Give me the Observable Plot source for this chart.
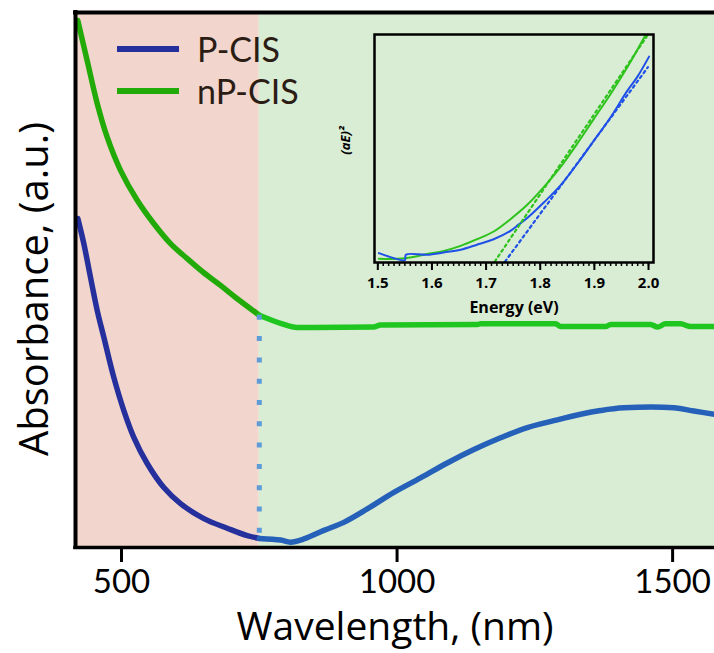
<!DOCTYPE html>
<html>
<head>
<meta charset="utf-8">
<script src="https://cdn.jsdelivr.net/npm/d3@7"></script>
<script src="https://cdn.jsdelivr.net/npm/@observablehq/plot@0.6"></script>
<style>
  body { margin: 0; background: white; }
  #wrap { position: relative; width: 714px; height: 653px; overflow: hidden; font-family: Lato, "Open Sans", sans-serif; }
  #inset { position: absolute; left: 320px; top: 20px; }
  .leg { position: absolute; display: flex; align-items: center; color: #2b1d14; font-size: 34px; line-height: 1; }
  .leg span.sw { display: inline-block; width: 62px; height: 6px; margin-right: 18px; }
</style>
</head>
<body>
<div id="wrap"></div>
<script>
// ---------- main chart data ----------
const xDomain = [416.5, 1576];
const xTicks = [500, 1000, 1500];
const bandEdges = [416.5, 750, 1576];
const bandColors = ["#f2d6cd", "#d9ecd4"];

const pcisWavelength = [420.7, 431.6, 443.7, 455.9, 467.9, 486.0, 504.2, 522.3, 546.6, 576.8, 607.1, 649.4, 691.8, 728.1, 750,
  788.6, 806.7, 830.9, 867.2, 903.4, 945.9, 994.2, 1042.6, 1091.1, 1139.4, 1187.8, 1236.3, 1284.6, 1333.0, 1369.3, 1411.6, 1502.4, 1538.7, 1576.0];
const pcisAbs = [0.615, 0.568, 0.505, 0.443, 0.393, 0.318, 0.256, 0.206, 0.157, 0.112, 0.082, 0.054, 0.036, 0.022, 0.017,
  0.014, 0.010, 0.016, 0.032, 0.047, 0.072, 0.103, 0.130, 0.158, 0.183, 0.205, 0.224, 0.237, 0.249, 0.256, 0.261, 0.261, 0.255, 0.249];

const npcisWavelength = [420.7, 437.7, 455.9, 474.0, 498.2, 528.5, 558.1, 588.9, 619.2, 648.8, 679.7, 710.0, 746.3, 750,
  788.6, 818.9, 957.4, 970.0, 1146.0, 1151.5, 1287.7, 1296.7, 1378.4, 1387.5, 1460.0, 1472.8, 1487.0, 1514.5, 1532.7, 1576.0];
const npcisAbs = [0.985, 0.910, 0.830, 0.767, 0.705, 0.649, 0.606, 0.568, 0.540, 0.514, 0.490, 0.465, 0.437, 0.434,
  0.419, 0.411, 0.412, 0.416, 0.417, 0.418, 0.418, 0.413, 0.413, 0.417, 0.417, 0.412, 0.418, 0.418, 0.413, 0.413];

const seriesNames = ["P-CIS", "nP-CIS"];
const blueLeft = "#25309d", blueRight = "#2560b9";
const greenLeft = "#22aa08", greenRight = "#20c620";

// ---------- inset data ----------
const insetXDomain = [1.4939, 2.0092];
const insetMajorTicks = [1.5, 1.6, 1.7, 1.8, 1.9, 2.0];
const insetEnergyP = [1.502, 1.530, 1.550, 1.552, 1.591, 1.622, 1.653, 1.683, 1.714, 1.745, 1.760, 1.776, 1.807, 1.837, 1.868, 1.899, 1.930, 1.961, 1.979, 2.001];
const insetValueP = [4.1, 1.9, 1.0, 3.4, 3.4, 4.4, 5.6, 7.8, 10.2, 13.9, 16.6, 19.5, 26.4, 33.7, 43.2, 53.4, 63.7, 75.4, 81.3, 90.3];
const insetEnergyNP = [1.502, 1.551, 1.591, 1.622, 1.653, 1.683, 1.714, 1.745, 1.776, 1.807, 1.837, 1.868, 1.899, 1.930, 1.961, 1.994];
const insetValueNP = [1.6, 1.9, 3.7, 5.1, 7.3, 10.2, 13.6, 19.0, 25.3, 33.2, 41.7, 52.0, 63.0, 73.9, 85.7, 99.6];
const fitEnergyP = [1.735, 1.999];
const fitValueP = [0.4, 85.7];
const fitEnergyNP = [1.716, 1.998];
const fitValueNP = [0.4, 99.6];

// ---------- build tables ----------
const pcis = pcisWavelength.map((w, i) => ({w, a: pcisAbs[i]}));
const npcis = npcisWavelength.map((w, i) => ({w, a: npcisAbs[i]}));
const edge = bandEdges[1];
const bands = bandColors.map((c, i) => ({x1: bandEdges[i], x2: bandEdges[i + 1], c}));
const edgeIdxP = pcisWavelength.indexOf(edge);
const edgeIdxN = npcisWavelength.indexOf(edge);
const marker = [{x: edge, y1: npcisAbs[edgeIdxN], y2: pcisAbs[edgeIdxP]}];

const font = "Lato, 'Open Sans', sans-serif";
const titleFont = "'Open Sans', Lato, sans-serif";

const main = Plot.plot({
  width: 714, height: 653,
  marginLeft: 75, marginRight: 0, marginTop: 12, marginBottom: 106,
  x: {domain: xDomain, axis: null},
  y: {domain: [0, 1], axis: null},
  style: {fontFamily: font, background: "transparent", overflow: "visible"},
  marks: [
    Plot.rect(bands, {x1: "x1", x2: "x2", fill: "c"}),
    Plot.line(npcis.filter(d => d.w <= edge), {x: "w", y: "a", stroke: greenLeft, strokeWidth: 5.5, curve: "catmull-rom"}),
    Plot.line(npcis.filter(d => d.w >= edge), {x: "w", y: "a", stroke: greenRight, strokeWidth: 5.5, curve: "monotone-x"}),
    Plot.line(pcis.filter(d => d.w <= edge), {x: "w", y: "a", stroke: blueLeft, strokeWidth: 5.5, curve: "catmull-rom"}),
    Plot.line(pcis.filter(d => d.w >= edge), {x: "w", y: "a", stroke: blueRight, strokeWidth: 5.5, curve: "catmull-rom"}),
    Plot.ruleX(marker, {x: "x", y1: "y1", y2: "y2", stroke: "#5f9bd6", strokeWidth: 5, strokeDasharray: "5,16.3"}),
    Plot.ruleY([0], {stroke: "black", strokeWidth: 3.5, strokeLinecap: "square"}),
    Plot.ruleY([1], {stroke: "black", strokeWidth: 4, strokeLinecap: "square"}),
    Plot.ruleX([xDomain[0]], {stroke: "black", strokeWidth: 4, strokeLinecap: "square"}),
    Plot.axisX({ticks: xTicks, tickSize: 15, tickPadding: 7, strokeWidth: 3, fontSize: 33, label: null, tickFormat: d3.format("d"), fill: "black"}),
    Plot.text(["Wavelength, (nm)"], {frameAnchor: "bottom", lineAnchor: "middle", textAnchor: "middle", dy: 80, fontSize: 39, fontFamily: titleFont, fill: "black"}),
    Plot.text(["Absorbance, (a.u.)"], {frameAnchor: "left", lineAnchor: "middle", textAnchor: "middle", dx: -40, dy: 9, rotate: -90, fontSize: 40, fontFamily: titleFont, fill: "black"})
  ]
});

const inset = Plot.plot({
  width: 350, height: 300,
  marginLeft: 54, marginRight: 17, marginTop: 14, marginBottom: 58,
  x: {domain: insetXDomain, axis: null},
  y: {domain: [0, 100], axis: null},
  style: {fontFamily: titleFont, background: "transparent", overflow: "visible"},
  marks: [
    Plot.line(insetEnergyNP, {x: d => d, y: (d, i) => insetValueNP[i], stroke: "#2ec21c", strokeWidth: 2, curve: "catmull-rom"}),
    Plot.line(insetEnergyP, {x: d => d, y: (d, i) => insetValueP[i], stroke: "#1f50e8", strokeWidth: 2, curve: "catmull-rom"}),
    Plot.line(fitEnergyNP, {x: d => d, y: (d, i) => fitValueNP[i], stroke: "#2ec21c", strokeWidth: 2.2, strokeDasharray: "2.5,3.5"}),
    Plot.line(fitEnergyP, {x: d => d, y: (d, i) => fitValueP[i], stroke: "#1f50e8", strokeWidth: 2.2, strokeDasharray: "2.5,3.5"}),
    Plot.frame({stroke: "black", strokeWidth: 2.5}),
    Plot.axisX({ticks: d3.ticks(1.5, 2.0, 50), tickSize: 4, strokeWidth: 1.5, tickFormat: () => "", label: null}),
    Plot.axisX({ticks: insetMajorTicks, tickSize: 8, tickPadding: 7, strokeWidth: 2, tickFormat: ".1f", fontSize: 15, fontWeight: "bold", label: null, fill: "black"}),
    Plot.text(["Energy (eV)"], {frameAnchor: "bottom", lineAnchor: "middle", dy: 45, fontSize: 16, fontWeight: "bold", fill: "black"}),
    Plot.text(["(aE)²"], {frameAnchor: "left", lineAnchor: "middle", textAnchor: "middle", dx: -29, dy: -8, rotate: -90, fontSize: 13, fontWeight: "bold", fontStyle: "italic", fill: "black"})
  ]
});
inset.id = "inset";

const wrap = document.getElementById("wrap");
wrap.appendChild(main);
wrap.appendChild(inset);

// legend
const legendColors = [blueLeft, greenLeft];
seriesNames.forEach((name, i) => {
  const div = document.createElement("div");
  div.className = "leg";
  div.style.left = "117px";
  div.style.top = (32 + i * 42) + "px";
  div.innerHTML = `<span class="sw" style="background:${legendColors[i]}"></span><span>${name}</span>`;
  wrap.appendChild(div);
});
</script>
</body>
</html>
